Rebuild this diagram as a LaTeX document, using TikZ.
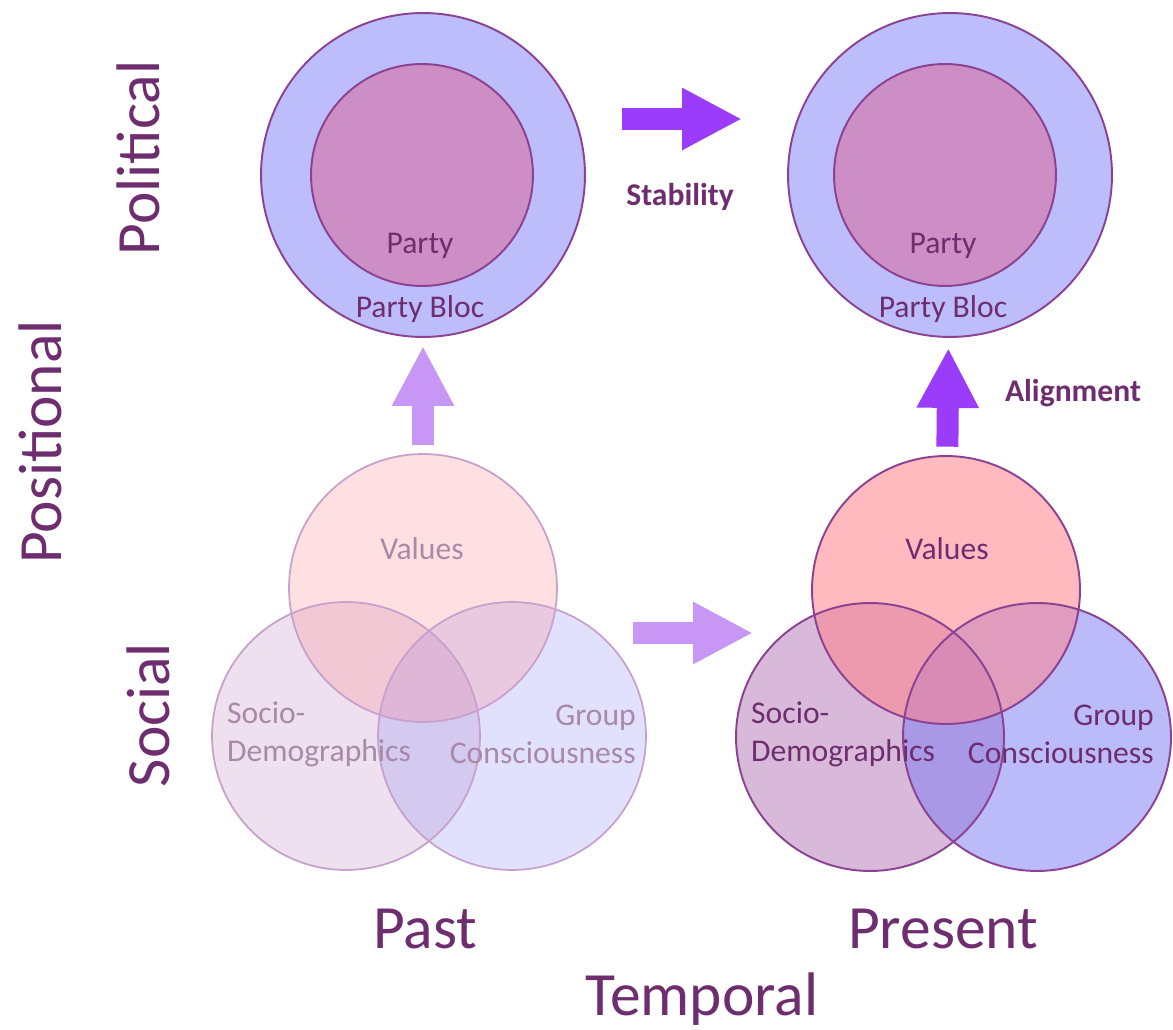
\documentclass[tikz,border=0pt]{standalone}
\usepackage{fontspec}
\setmainfont{Carlito}
\usetikzlibrary{arrows.meta}

\definecolor{bloc}{RGB}{189,189,251}
\definecolor{party}{RGB}{204,142,196}
\definecolor{edge}{RGB}{140,66,146}
\definecolor{ink}{RGB}{110,45,110}
\definecolor{bright}{RGB}{155,60,250}
\definecolor{pale}{RGB}{200,150,245}
\definecolor{valc}{RGB}{255,130,140}
\definecolor{socc}{RGB}{170,100,170}
\definecolor{grpc}{RGB}{120,120,245}
\definecolor{fadeedge}{RGB}{200,160,205}
\definecolor{fadeink}{RGB}{168,138,168}

\begin{document}
\begin{tikzpicture}[x=0.02cm, y=-0.02cm,
  ring/.style={circle, draw=edge, line width=1.1pt, inner sep=0pt},
  venn/.style={circle, inner sep=0pt, minimum size=5.36cm},
  lbl/.style={text=ink, font=\fontsize{18}{21.5}\selectfont},
  hot/.style={text=ink, font=\bfseries\fontsize{18}{21.5}\selectfont},
  big/.style={text=ink, font=\fontsize{35}{42}\selectfont},
  fat/.style={line width=0.44cm, -{Triangle[length=1.2cm, width=1.16cm]}}]
\useasboundingbox (0,0) rectangle (1173,1030);

% political level
\node[ring, fill=bloc, minimum size=6.48cm] (pb) at (423,175) {};
\node[ring, fill=party, minimum size=4.44cm] (pp) at (422,175) {};
\node[lbl, anchor=base] (pt) at (420,254) {Party};
\node[lbl, anchor=base] (pbt) at (420,318) {Party Bloc};

\node[ring, fill=bloc, minimum size=6.48cm] (nb) at (950,175) {};
\node[ring, fill=party, minimum size=4.44cm] (np) at (945,175) {};
\node[lbl, anchor=base] (nt) at (943,254) {Party};
\node[lbl, anchor=base] (nbt) at (943,318) {Party Bloc};

% social level, past (faded)
\node[venn, fill=socc, fill opacity=0.2] (ps) at (346,736) {};
\node[venn, fill=grpc, fill opacity=0.22] (pg) at (512,736) {};
\node[venn, fill=valc, fill opacity=0.25] (pv) at (423,588) {};
\foreach \c in {ps,pg,pv}
  \draw[fadeedge, line width=1pt] (\c.center) circle[radius=2.68cm];
\node[lbl, text=fadeink, anchor=base] (pvt) at (422,559) {Values};
\node[lbl, text=fadeink, anchor=west, align=left] (pst) at (221,734) {Socio-\\Demographics};
\node[lbl, text=fadeink, anchor=east, align=right] (pgt) at (642,734) {Group\\Consciousness};

% social level, present
\node[venn, fill=socc, fill opacity=0.45] (ns) at (870,737) {};
\node[venn, fill=grpc, fill opacity=0.5] (ng) at (1037,737) {};
\node[venn, fill=valc, fill opacity=0.55] (nv) at (946,590) {};
\foreach \c in {ns,ng,nv}
  \draw[edge, line width=1.1pt] (\c.center) circle[radius=2.68cm];
\node[lbl, anchor=base] (nvt) at (947,559) {Values};
\node[lbl, anchor=west, align=left] (nst) at (745,734) {Socio-\\Demographics};
\node[lbl, anchor=east, align=right] (ngt) at (1160,734) {Group\\Consciousness};

% arrows
\coordinate (s1) at (622,119);
\coordinate (s2) at (742,119);
\draw[fat, bright] (s1) -- (s2);
\node[hot] (stab) at (680,197) {Stability};

\coordinate (t1) at (633,633);
\coordinate (t2) at (753,633);
\draw[fat, pale] (t1) -- (t2);

\draw[fat, pale, shorten <=0.18cm, shorten >=0.16cm] (pv) -- (pb);
\draw[fat, bright, shorten <=0.18cm, shorten >=0.2cm] (nv) -- (nb);
\node[hot] (algn) at (1073,393) {Alignment};

% axis labels
\node[big, rotate=90] (pol) at (138,158) {Political};
\node[big, rotate=90] (pos) at (40,442) {Positional};
\node[big, rotate=90] (soc) at (148,715) {Social};
\node[big, anchor=base] (past) at (425,948) {Past};
\node[big, anchor=base] (pres) at (943,948) {Present};
\node[big, anchor=base] (temp) at (702,1015) {Temporal};
\end{tikzpicture}
\end{document}
